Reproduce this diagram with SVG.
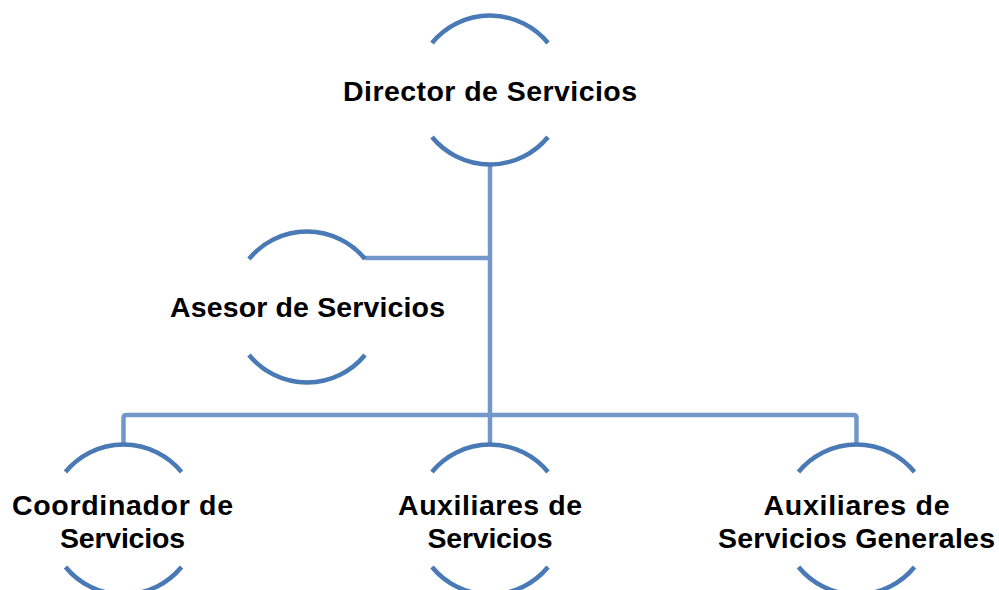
<svg xmlns="http://www.w3.org/2000/svg" width="999" height="590" viewBox="0 0 999 590">
<style>
.arc{fill:none;stroke:#4A7AB5;stroke-width:4.5;}
.con{fill:none;stroke:#7397CA;stroke-width:4.5;stroke-linejoin:round;}
.t{font-family:"Liberation Sans",Arial,sans-serif;font-weight:bold;font-size:28.5px;fill:#000;text-anchor:middle;}
</style>
<rect width="999" height="590" fill="#fff"/>
<g id="connectors">
<path class="con" d="M490 165 V445"/>
<path class="con" d="M365 258 H490"/>
<path class="con" d="M123.5 445 V418 Q123.5 415 126.5 415 H853.5 Q856.5 415 856.5 418 V445"/>
</g>
<g id="director">
<path class="arc" d="M432 43 A75 75 0 0 1 548 43"/>
<path class="arc" d="M432 137 A75 75 0 0 0 548 137"/>
<text class="t" x="490" y="101" textLength="294">Director de Servicios</text>
</g>
<g id="asesor">
<path class="arc" d="M249 259 A75 75 0 0 1 365 259"/>
<path class="arc" d="M249 355 A75 75 0 0 0 365 355"/>
<text class="t" x="307.5" y="317" textLength="275">Asesor de Servicios</text>
</g>
<g id="coordinador">
<path class="arc" d="M65.5 472 A75 75 0 0 1 181.5 472"/>
<path class="arc" d="M65.5 567 A75 75 0 0 0 181.5 567"/>
<text class="t"><tspan x="122.5" y="515" textLength="221">Coordinador de</tspan><tspan x="122.5" y="548" textLength="125">Servicios</tspan></text>
</g>
<g id="auxiliares">
<path class="arc" d="M432 472 A75 75 0 0 1 548 472"/>
<path class="arc" d="M432 567 A75 75 0 0 0 548 567"/>
<text class="t"><tspan x="490" y="515" textLength="184">Auxiliares de</tspan><tspan x="490" y="548" textLength="125">Servicios</tspan></text>
</g>
<g id="auxiliares-generales">
<path class="arc" d="M798.5 472 A75 75 0 0 1 914.5 472"/>
<path class="arc" d="M798.5 567 A75 75 0 0 0 914.5 567"/>
<text class="t"><tspan x="856.5" y="515" textLength="186">Auxiliares de</tspan><tspan x="856.5" y="548" textLength="277">Servicios Generales</tspan></text>
</g>
</svg>
